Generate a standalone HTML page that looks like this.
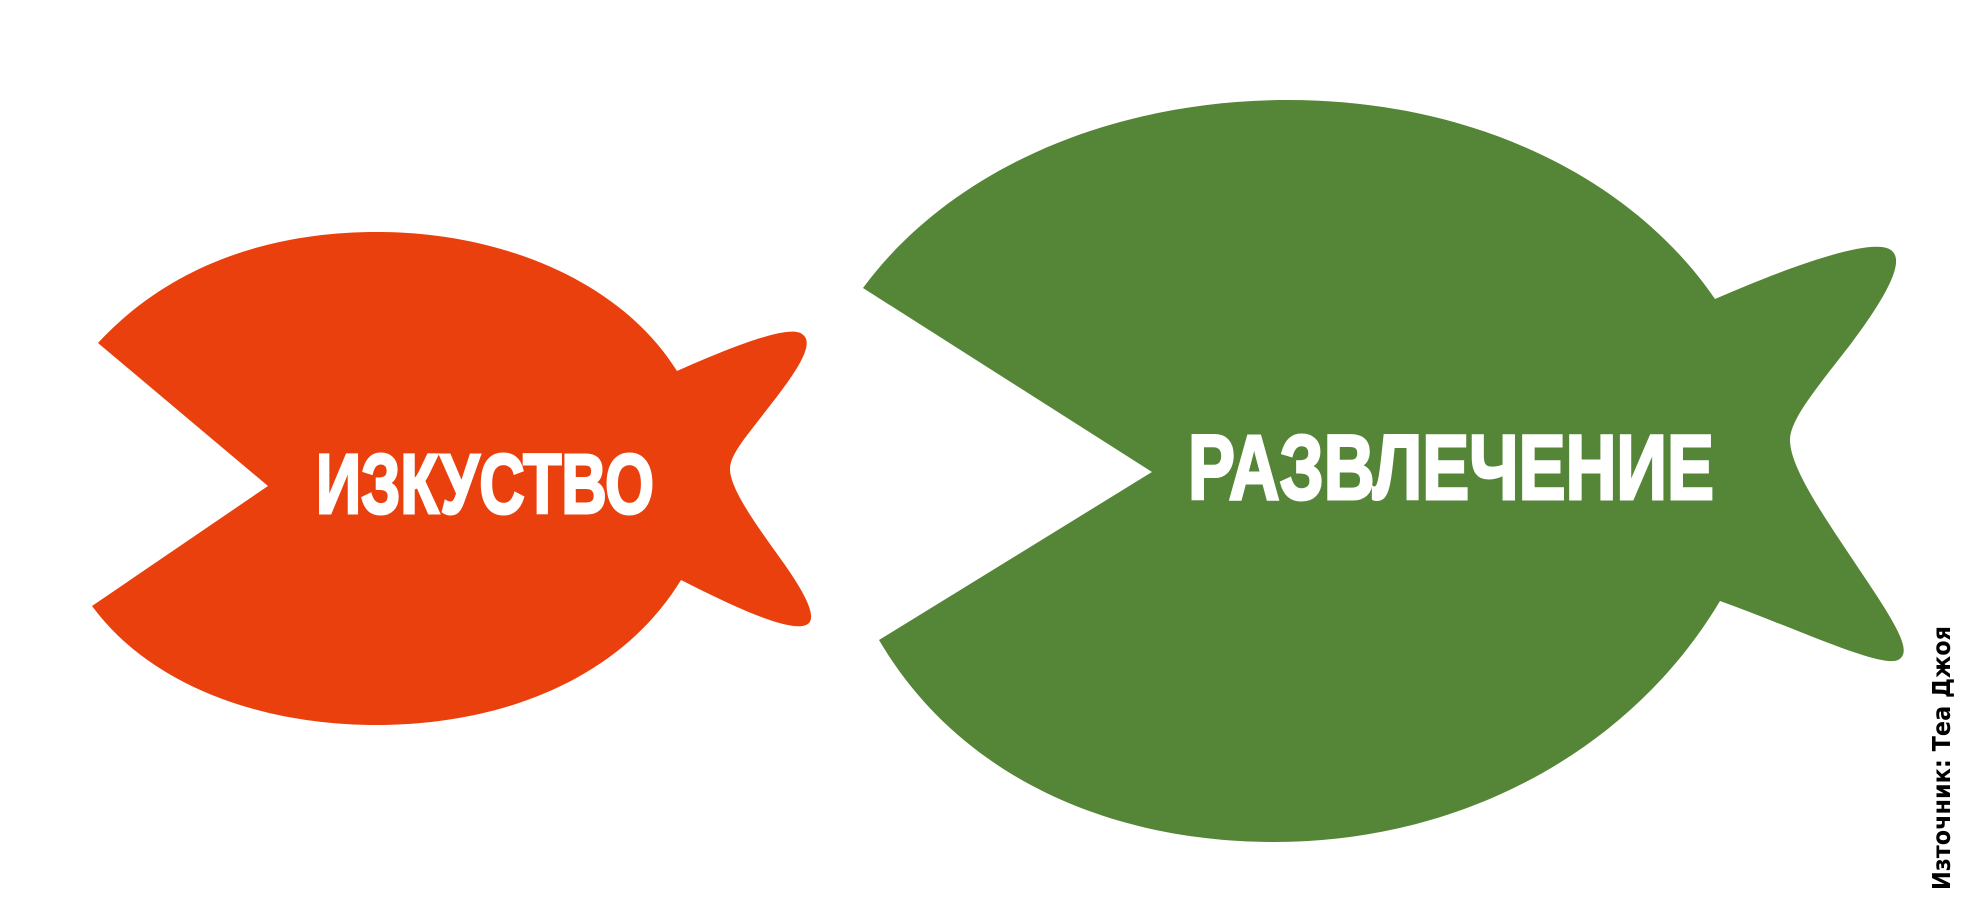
<!DOCTYPE html>
<html><head><meta charset="utf-8"><style>
html,body{margin:0;padding:0;background:#fff;width:1970px;height:908px;overflow:hidden}
svg{display:block}
</style></head><body>
<svg width="1970" height="908" viewBox="0 0 1970 908" xmlns="http://www.w3.org/2000/svg">
<path fill="#ea400e" d="M98,343 C170,265 270,232 377,232 C500,232 620,280 677,371 C740,343 790,325 802,334 C818,344 790,380 765,412 C745,438 730,455 730,469 C730,490 760,530 785,565 C808,598 818,620 806,625 C790,632 740,610 681,580 C620,680 500,725 377,725 C260,725 150,685 92,606 L268,486 Z"/>
<path fill="#558536" d="M863,288 C950,170 1110,100 1288,100 C1470,100 1630,175 1715,299 C1800,262 1880,235 1893,252 C1905,265 1880,305 1850,345 C1815,390 1790,420 1790,440 C1790,470 1830,525 1865,578 C1900,630 1912,653 1898,660 C1880,668 1800,630 1720,601 C1630,752 1460,842 1275,842 C1100,842 955,770 879,640 L1152,472 Z"/>
<text x="316" y="513" fill="#fff" stroke="#fff" stroke-width="3" font-family="'Liberation Sans','DejaVu Sans',sans-serif" font-weight="bold" font-size="84" textLength="338" lengthAdjust="spacingAndGlyphs">ИЗКУСТВО</text>
<text x="1188" y="499" fill="#fff" stroke="#fff" stroke-width="3" font-family="'Liberation Sans','DejaVu Sans',sans-serif" font-weight="bold" font-size="92" textLength="526" lengthAdjust="spacingAndGlyphs">РАЗВЛЕЧЕНИЕ</text>
<text transform="translate(1950,890) rotate(-90)" fill="#000" font-family="'DejaVu Sans','Liberation Sans',sans-serif" font-weight="bold" font-size="25" textLength="264" lengthAdjust="spacingAndGlyphs">Източник: Теа Джоя</text>
</svg>
</body></html>
